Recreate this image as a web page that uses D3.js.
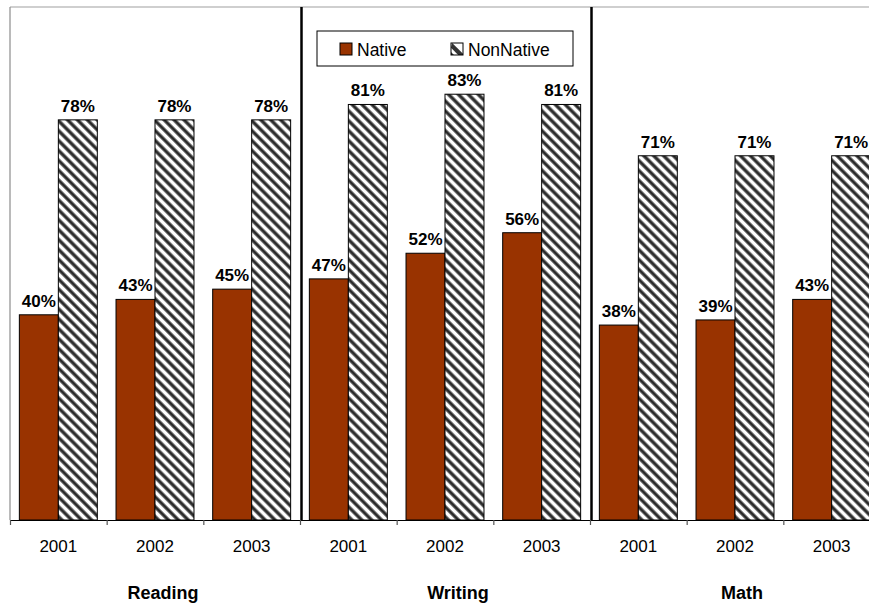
<!DOCTYPE html>
<html>
<head>
<meta charset="utf-8">
<script src="https://cdn.jsdelivr.net/npm/d3@7"></script>
<style>
  html, body { margin: 0; padding: 0; background: #fff; }
  svg { display: block; font-family: Arial, "Liberation Sans", sans-serif; }
</style>
</head>
<body>
<svg id="chart" width="869" height="605"></svg>
<script>
// Share of students scoring below standard, by subject and year
const subjects = ["Reading", "Writing", "Math"];
const years = ["2001", "2002", "2003"];
const seriesNames = ["Native", "NonNative"];
const nativeValues = [40, 43, 45, 47, 52, 56, 38, 39, 43];
const nonNativeValues = [78, 78, 78, 81, 83, 81, 71, 71, 71];

const categories = subjects.flatMap(s => years.map(y => ({ subject: s, year: y, key: s + "-" + y })));
const rows = categories.map((c, i) => ({ ...c, Native: nativeValues[i], NonNative: nonNativeValues[i] }));

const svg = d3.select("#chart");
const plot = { left: 10, right: 880, top: 7, bottom: 520 };

const x = d3.scaleBand().domain(categories.map(c => c.key)).range([plot.left, plot.right]).padding(0);
const xInner = d3.scaleBand().domain(seriesNames).range([0, x.bandwidth()]).paddingInner(0).paddingOuter(0.24);
const y = d3.scaleLinear().domain([0, 100]).range([plot.bottom, plot.top]);

// Diagonal hatch fill for the NonNative series
const defs = svg.append("defs");
const hatch = defs.append("pattern")
  .attr("id", "hatch")
  .attr("patternUnits", "userSpaceOnUse")
  .attr("width", 7).attr("height", 7)
  .attr("patternTransform", "rotate(45)");
hatch.append("rect").attr("width", 7).attr("height", 7).attr("fill", "#fff");
hatch.append("rect").attr("y", 0.4).attr("width", 7).attr("height", 3.3).attr("fill", "#2a2a2a");

const fills = { Native: "#993300", NonNative: "url(#hatch)" };

// Plot frame: gray top border and left axis line
svg.append("line")
  .attr("x1", plot.left).attr("x2", plot.right)
  .attr("y1", plot.top).attr("y2", plot.top)
  .attr("stroke", "#a0a0a0").attr("stroke-width", 1.2);
svg.append("line")
  .attr("x1", plot.left).attr("x2", plot.left)
  .attr("y1", plot.top).attr("y2", plot.bottom)
  .attr("stroke", "#8c8c8c").attr("stroke-width", 1.2);

// Bars
const groups = svg.append("g").selectAll("g")
  .data(rows).join("g")
  .attr("transform", d => `translate(${x(d.key)},0)`);

groups.selectAll("rect")
  .data(d => seriesNames.map(s => ({ series: s, value: d[s] })))
  .join("rect")
  .attr("x", d => xInner(d.series))
  .attr("y", d => y(d.value))
  .attr("width", xInner.bandwidth())
  .attr("height", d => y(0) - y(d.value))
  .attr("fill", d => fills[d.series])
  .attr("stroke", "#000")
  .attr("stroke-width", 1);

// Value labels
groups.selectAll("text")
  .data(d => seriesNames.map(s => ({ series: s, value: d[s] })))
  .join("text")
  .attr("x", d => xInner(d.series) + xInner.bandwidth() / 2)
  .attr("y", d => y(d.value) - 8)
  .attr("text-anchor", "middle")
  .attr("font-size", 17)
  .attr("font-weight", "bold")
  .attr("fill", "#000")
  .text(d => d.value + "%");

// Subject separators
subjects.slice(1).forEach(s => {
  const sx = x(s + "-" + years[0]) + 1.5;
  svg.append("line")
    .attr("x1", sx).attr("x2", sx)
    .attr("y1", plot.top).attr("y2", plot.bottom)
    .attr("stroke", "#000").attr("stroke-width", 2.5);
});

// Category axis with ticks at band edges
const edges = categories.map(c => x(c.key)).concat([plot.right]);
const edgeScale = d3.scaleLinear().domain([plot.left, plot.right]).range([plot.left, plot.right]);
const axis = d3.axisBottom(edgeScale).tickValues(edges).tickSize(5).tickSizeOuter(0).tickFormat("");
const axisG = svg.append("g").attr("transform", `translate(0,${plot.bottom})`).call(axis);
axisG.select(".domain").attr("stroke", "#000").attr("stroke-width", 1.2);
axisG.selectAll(".tick line").attr("stroke", "#555").attr("stroke-width", 1.2);

// Year labels
svg.append("g").selectAll("text")
  .data(categories).join("text")
  .attr("x", d => x(d.key) + x.bandwidth() / 2)
  .attr("y", 552)
  .attr("text-anchor", "middle")
  .attr("font-size", 17)
  .attr("fill", "#000")
  .text(d => d.year);

// Subject labels
const subjectShift = { Reading: 8, Writing: 13, Math: 7 };
svg.append("g").selectAll("text")
  .data(subjects).join("text")
  .attr("x", s => (x(s + "-" + years[0]) + x(s + "-" + years[2]) + x.bandwidth()) / 2 + subjectShift[s])
  .attr("y", 599)
  .attr("text-anchor", "middle")
  .attr("font-size", 18)
  .attr("font-weight", "bold")
  .attr("fill", "#000")
  .text(s => s);

// Legend swatch hatch: a single diagonal band
const hatchSmall = defs.append("pattern")
  .attr("id", "hatchSmall")
  .attr("patternUnits", "objectBoundingBox")
  .attr("patternContentUnits", "objectBoundingBox")
  .attr("width", 1).attr("height", 1);
hatchSmall.append("rect").attr("width", 1).attr("height", 1).attr("fill", "#fff");
hatchSmall.append("path").attr("d", "M0.1,0 L1,0.9 L1,1 L0.6,1 L0,0.4 Z").attr("fill", "#333");
hatchSmall.append("path").attr("d", "M0,0.75 L0.25,1 L0,1 Z").attr("fill", "#333");

// Legend
const legend = svg.append("g").attr("transform", "translate(317,31)");
legend.append("rect")
  .attr("width", 256).attr("height", 35)
  .attr("fill", "#fff").attr("stroke", "#000").attr("stroke-width", 1);
const legendX = d3.scaleOrdinal().domain(seriesNames).range([23, 134]);
const item = legend.selectAll("g.item")
  .data(seriesNames).join("g")
  .attr("class", "item")
  .attr("transform", d => `translate(${legendX(d)},12)`);
item.append("rect")
  .attr("width", 12).attr("height", 12)
  .attr("fill", d => d === "Native" ? fills.Native : "url(#hatchSmall)")
  .attr("stroke", "#000").attr("stroke-width", 1);
item.append("text")
  .attr("x", 17).attr("y", 12.5)
  .attr("font-size", 17.5)
  .attr("fill", "#000")
  .text(d => d);
</script>
</body>
</html>
